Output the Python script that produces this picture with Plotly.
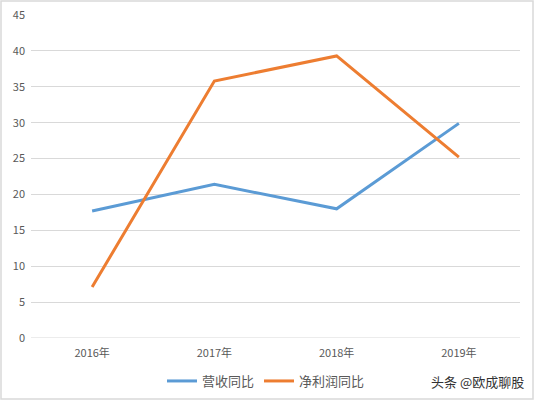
import plotly.graph_objects as go

years = ["2016年", "2017年", "2018年", "2019年"]
revenue_yoy = [17.7, 21.4, 18.0, 29.9]
profit_yoy = [7.1, 35.8, 39.3, 25.2]
y_ticks = [0, 5, 10, 15, 20, 25, 30, 35, 40, 45]

W, H = 535, 401
ml, mr, mt, mb = 31, 15, 15, 63
pw, ph = W - ml - mr, H - mt - mb

def px_x(x):
    return (x - ml) / pw

def px_y(y):
    return (H - mb - y) / ph

fig = go.Figure()
fig.add_trace(go.Scatter(x=years, y=revenue_yoy, mode="lines", name="营收同比",
                         line=dict(color="#5B9BD5", width=3)))
fig.add_trace(go.Scatter(x=years, y=profit_yoy, mode="lines", name="净利润同比",
                         line=dict(color="#ED7D31", width=3)))

font = "Noto Sans CJK SC, Noto Sans, sans-serif"
fig.update_layout(
    width=W, height=H,
    margin=dict(l=ml, r=mr, t=mt, b=mb, autoexpand=False),
    paper_bgcolor="white", plot_bgcolor="white",
    font=dict(family=font, size=11, color="#595959"),
    showlegend=True,
    legend=dict(orientation="h", x=px_x(266), xanchor="center", y=px_y(381), yanchor="middle",
                font=dict(size=13, color="#595959"), itemwidth=30),
    xaxis=dict(type="category", range=[-0.5, 3.5], showgrid=False, showline=False,
               ticks="", automargin=False, ticklabelstandoff=7,
               tickfont=dict(size=11, color="#595959")),
    yaxis=dict(range=[0, 45], tickvals=y_ticks, showgrid=True, gridcolor="#D9D9D9",
               gridwidth=1, zeroline=False, showline=False, ticks="", automargin=False,
               ticklabelstandoff=5,
               tickfont=dict(size=11, color="#595959")),
)
fig.add_shape(type="line", xref="paper", yref="y", x0=0, x1=1, y0=0, y1=0,
              line=dict(color="#D9D9D9", width=1))
fig.add_shape(type="rect", xref="paper", yref="paper",
              x0=px_x(1), x1=px_x(533), y0=px_y(399), y1=px_y(1),
              line=dict(color="#D9D9D9", width=1.5))
fig.add_annotation(text="头条 @欧成聊股", xref="paper", yref="paper",
                   x=px_x(526), y=px_y(381), xanchor="right", yanchor="middle",
                   showarrow=False, font=dict(size=13, color="#333333", family=font))
fig.write_html("out.html")
